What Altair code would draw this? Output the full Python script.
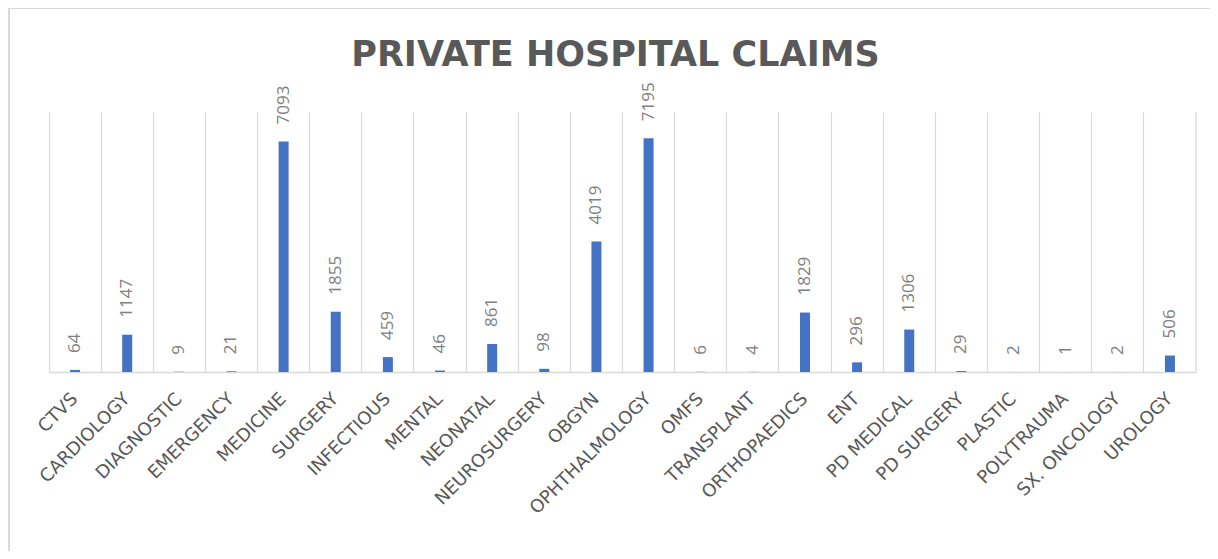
import altair as alt
import pandas as pd

categories = ["CTVS", "CARDIOLOGY", "DIAGNOSTIC", "EMERGENCY", "MEDICINE", "SURGERY",
              "INFECTIOUS", "MENTAL", "NEONATAL", "NEUROSURGERY", "OBGYN", "OPHTHALMOLOGY",
              "OMFS", "TRANSPLANT", "ORTHOPAEDICS", "ENT", "PD MEDICAL", "PD SURGERY",
              "PLASTIC", "POLYTRAUMA", "SX. ONCOLOGY", "UROLOGY"]
claims = [64, 1147, 9, 21, 7093, 1855, 459, 46, 861, 98, 4019, 7195,
          6, 4, 1829, 296, 1306, 29, 2, 1, 2, 506]

df = pd.DataFrame({"dept": categories, "claims": claims})

W, H = 1147, 260

x_enc = alt.X("dept:N", sort=None, title=None,
              scale=alt.Scale(paddingInner=0, paddingOuter=0),
              axis=alt.Axis(labelAngle=-45, labelAlign="right", labelBaseline="middle",
                            labelFont="DejaVu Sans", labelFontSize=18, labelColor="#595959",
                            labelPadding=24,
                            bandPosition=0, ticks=False, grid=True, gridColor="#d9d9d9",
                            gridWidth=1.2, domainColor="#d9d9d9", domainWidth=1.5,
                            labelLimit=300))
y_enc = alt.Y("claims:Q", scale=alt.Scale(domain=[0, 8000]), axis=None)

base = alt.Chart(df)
bars = base.mark_bar(size=10, color="#4472C4").encode(x=x_enc, y=y_enc)
labels = base.mark_text(angle=270, align="left", baseline="middle", dx=17,
                        font="Open Sans", fontSize=17, color="#7f7f7f").encode(
    x=alt.X("dept:N", sort=None), y="claims:Q", text="claims:Q")

edge = alt.Chart(pd.DataFrame({"k": [0]})).mark_rule(color="#d9d9d9", strokeWidth=1.2).encode(
    x=alt.value(W), y=alt.value(0), y2=alt.value(H))
frame = alt.Chart(pd.DataFrame({"k": [0]})).mark_rect(
    fill="white", fillOpacity=0, stroke="#d9d9d9", strokeWidth=2).encode(
    x=alt.value(-40), x2=alt.value(1200), y=alt.value(-104), y2=alt.value(500))

chart = alt.layer(frame, bars, labels, edge).properties(
    width=W, height=H,
    title=alt.Title("PRIVATE HOSPITAL CLAIMS", font="DejaVu Sans", fontSize=35,
                    fontWeight="bold", color="#595959", anchor="middle", frame="group",
                    dx=-7, offset=-66),
    autosize=alt.AutoSizeParams(type="none"),
    padding={"left": 41, "top": 104, "right": 14, "bottom": 179},
).configure_view(stroke=None)

chart.save("out.html", embed_options={"renderer": "svg", "actions": False})
